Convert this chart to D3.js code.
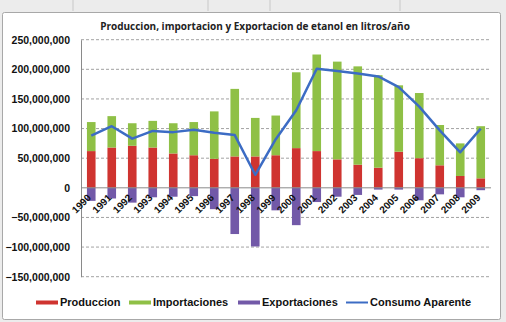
<!DOCTYPE html>
<html>
<head>
<meta charset="utf-8">
<script src="https://cdn.jsdelivr.net/npm/d3@7"></script>
<style>
  body { margin: 0; background: #ebebeb; }
  svg { display: block; }
</style>
</head>
<body>
<svg width="506" height="322"></svg>
<script>
const years = ["1990","1991","1992","1993","1994","1995","1996","1997","1998","1999",
               "2000","2001","2002","2003","2004","2005","2006","2007","2008","2009"];

// litros/año
const produccion    = [62e6, 68e6, 71e6, 68e6, 58e6, 55e6, 49e6, 53e6, 53e6, 55e6,
                       67e6, 62e6, 48e6, 39e6, 34e6, 61e6, 50e6, 38e6, 20e6, 16e6];
const importaciones = [49e6, 53e6, 38e6, 45e6, 51e6, 56e6, 80e6, 114e6, 65e6, 67e6,
                       128e6, 163e6, 165e6, 166e6, 156e6, 112e6, 110e6, 68e6, 55e6, 88e6];
const exportaciones = [-22e6, -18e6, -25e6, -16e6, -15e6, -14e6, -36e6, -78e6, -99e6, -38e6,
                       -63e6, -24e6, -15e6, -12e6, -3e6, -3e6, -21e6, -11e6, -16e6, -4e6];
const consumo       = [88e6, 104e6, 83e6, 96e6, 94e6, 98e6, 93e6, 89e6, 22e6, 82e6,
                       131e6, 201e6, 197e6, 193e6, 188e6, 170e6, 137e6, 97e6, 60e6, 100e6];

const yTicks = [250e6, 200e6, 150e6, 100e6, 50e6, 0, -50e6, -100e6, -150e6];

const colors = { prod: "#cf3430", imp: "#8fc046", exp: "#7259a8", cons: "#3c6cc4" };

const svg = d3.select("svg");
const font = "'Liberation Sans', Arial, sans-serif";

// spreadsheet strip above the chart frame
svg.append("rect").attr("x", 0).attr("y", 0).attr("width", 506).attr("height", 322).attr("fill", "#ececec");
[73, 208, 270, 400].forEach(x => {
  svg.append("line").attr("x1", x).attr("x2", x).attr("y1", 0).attr("y2", 11)
    .attr("stroke", "#c8c8c8");
});

// chart frame
svg.append("rect")
  .attr("x", 2.5).attr("y", 12.5).attr("width", 498).attr("height", 307)
  .attr("fill", "#fff").attr("stroke", "#a8a8a8").attr("rx", 2);

const plot = { left: 81, right: 491, top: 39.7, bottom: 276.7 };

const x = d3.scaleBand().domain(years).range([plot.left, plot.right]).paddingInner(0.58).paddingOuter(0.29);
const y = d3.scaleLinear().domain([-150e6, 250e6]).range([plot.bottom, plot.top]);

// grid
const grid = svg.append("g");
grid.selectAll("line")
  .data(yTicks.filter(d => d !== 0))
  .enter().append("line")
  .attr("x1", plot.left).attr("x2", plot.right)
  .attr("y1", d => y(d)).attr("y2", d => y(d))
  .attr("stroke", "#8a8a8a").attr("stroke-width", 0.8)
  .attr("stroke-dasharray", "3,2");

// y axis
const yAxis = svg.append("g")
  .attr("transform", `translate(${plot.left},0)`)
  .call(d3.axisLeft(y).tickValues(yTicks).tickSize(0).tickPadding(11)
    .tickFormat(d => d3.format(",")(d)));
yAxis.select(".domain").attr("stroke", "#8a8a8a");
yAxis.selectAll("text")
  .attr("font-family", font).attr("font-size", 10.5).attr("font-weight", "bold")
  .attr("fill", "#111");

// bars
const bars = svg.append("g");
bars.selectAll(".prod").data(years).enter().append("rect")
  .attr("x", d => x(d)).attr("width", x.bandwidth())
  .attr("y", (d, i) => y(produccion[i]))
  .attr("height", (d, i) => y(0) - y(produccion[i]))
  .attr("fill", colors.prod);
bars.selectAll(".imp").data(years).enter().append("rect")
  .attr("x", d => x(d)).attr("width", x.bandwidth())
  .attr("y", (d, i) => y(produccion[i] + importaciones[i]))
  .attr("height", (d, i) => y(produccion[i]) - y(produccion[i] + importaciones[i]))
  .attr("fill", colors.imp);
bars.selectAll(".exp").data(years).enter().append("rect")
  .attr("x", d => x(d)).attr("width", x.bandwidth())
  .attr("y", y(0))
  .attr("height", (d, i) => y(exportaciones[i]) - y(0))
  .attr("fill", colors.exp);

// zero line
svg.append("line")
  .attr("x1", plot.left).attr("x2", plot.right)
  .attr("y1", y(0)).attr("y2", y(0))
  .attr("stroke", "#8a8a8a").attr("stroke-width", 1);

// x labels, rotated
svg.append("g").selectAll("text")
  .data(years).enter().append("text")
  .attr("transform", d => `translate(${x(d) + x.bandwidth() / 2 - 2},${y(0) + 8}) rotate(-45)`)
  .attr("text-anchor", "end")
  .attr("dy", "0.35em")
  .attr("font-family", font).attr("font-size", 10).attr("font-weight", "bold")
  .attr("fill", "#111")
  .text(d => d);

// consumo aparente line
const line = d3.line()
  .x((d, i) => x(years[i]) + x.bandwidth() / 2)
  .y(d => y(d));
svg.append("path")
  .datum(consumo)
  .attr("d", line)
  .attr("fill", "none")
  .attr("stroke", colors.cons)
  .attr("stroke-width", 2.5)
  .attr("stroke-linejoin", "round");

// title
svg.append("text")
  .attr("x", 255).attr("y", 30)
  .attr("text-anchor", "middle")
  .attr("font-family", "'Open Sans', sans-serif").attr("font-size", 10).attr("font-weight", "bold")
  .attr("fill", "#222")
  .text("Produccion, importacion y Exportacion de etanol en litros/año");

// legend
const legendItems = [
  { label: "Produccion", color: colors.prod, x: 36, type: "bar" },
  { label: "Importaciones", color: colors.imp, x: 129, type: "bar" },
  { label: "Exportaciones", color: colors.exp, x: 238, type: "bar" },
  { label: "Consumo Aparente", color: colors.cons, x: 346, type: "line" }
];
const legend = svg.append("g");
legendItems.forEach(it => {
  if (it.type === "bar") {
    legend.append("rect").attr("x", it.x).attr("y", 300.5).attr("width", 22).attr("height", 4)
      .attr("fill", it.color);
  } else {
    legend.append("line").attr("x1", it.x).attr("x2", it.x + 22).attr("y1", 302.5).attr("y2", 302.5)
      .attr("stroke", it.color).attr("stroke-width", 2);
  }
  legend.append("text")
    .attr("x", it.x + 24).attr("y", 302.5).attr("dy", "0.35em")
    .attr("font-family", font).attr("font-size", 11).attr("font-weight", "bold")
    .attr("fill", "#111")
    .text(it.label);
});
</script>
</body>
</html>
